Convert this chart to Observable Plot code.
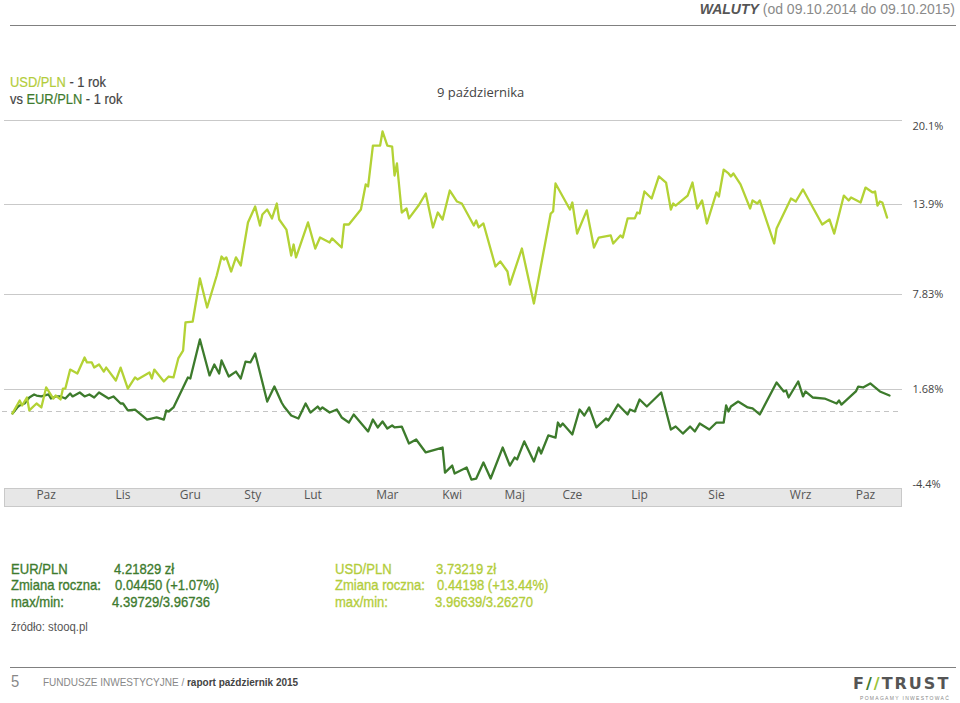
<!DOCTYPE html>
<html><head><meta charset="utf-8">
<script src="https://cdn.jsdelivr.net/npm/d3@7"></script>
<script src="https://cdn.jsdelivr.net/npm/@observablehq/plot@0.6"></script>
<style>
body{margin:0;background:#fff;}
#page{position:relative;width:960px;height:703px;overflow:hidden;font-family:"Liberation Sans",Arial,sans-serif;}
.abs{position:absolute;white-space:nowrap;line-height:1;}
.narrow{font-family:"Liberation Sans",Arial,sans-serif;transform:scaleX(0.87);transform-origin:0 0;}
.semi{font-family:"Liberation Sans",Arial,sans-serif;transform:scaleX(0.92);transform-origin:0 0;-webkit-text-stroke:0.2px currentColor;}
.med{-webkit-text-stroke:0.35px currentColor;}
.dk{color:#3e7b2e;} .lt{color:#b3cd3b;} .gr{color:#444;}
#chart{position:absolute;left:0;top:0;z-index:1;}
#band{position:absolute;left:4px;top:488px;width:898px;height:19px;background:#e7e7e7;border:1px solid #c9c9c9;box-sizing:border-box;z-index:0;}
</style></head>
<body><div id="page">
<div class="abs" style="right:5px;top:2px;font-size:14px;color:#8a8a8a;"><b style="color:#555;font-style:italic;">WALUTY</b> (od 09.10.2014 do 09.10.2015)</div>
<div class="abs" style="left:10px;top:25px;width:946px;height:1px;background:#808080;"></div>
<div class="abs semi" style="left:10px;top:75px;font-size:14px;"><span class="lt">USD/PLN</span><span class="gr"> - 1 rok</span></div>
<div class="abs semi" style="left:10px;top:92px;font-size:14px;"><span class="gr">vs </span><span class="dk">EUR/PLN</span><span class="gr"> - 1 rok</span></div>
<div class="abs" style="left:437px;top:86px;font-size:13px;color:#444;font-family:'Open Sans',sans-serif;">9 października</div>
<div id="band"></div>
<div id="stats"></div>
<div class="abs narrow" style="left:11px;top:620px;font-size:13px;color:#555;">źródło: stooq.pl</div>
<div class="abs" style="left:10px;top:667px;width:946px;height:1px;background:#808080;"></div>
<div class="abs narrow" style="left:11px;top:673px;font-size:17px;color:#888;">5</div>
<div class="abs narrow" style="left:43px;top:677px;font-size:11.5px;color:#888;">FUNDUSZE INWESTYCYJNE / <b style="color:#444;">raport październik 2015</b></div>
<div class="abs" style="left:853px;top:676px;font-size:16px;font-weight:bold;color:#555;letter-spacing:2px;font-family:'DejaVu Sans',sans-serif;">F<span style="color:#3e7b2e;">/</span><span style="color:#9cc43a;">/</span>TRUST</div>
<div class="abs" style="left:860px;top:696px;font-size:5px;color:#888;letter-spacing:1.3px;">POMAGAMY INWESTOWAĆ</div>
</div>
<script>
// --- data (percent change since 09.10.2014; x = days since start) ---
const startDate = "2014-10-09";
const endDate = "2015-10-09";
const usdDays = [0,3,4,6,7,10,12,14,17,18,20,21,22,24,27,30,31,33,34,36,38,39,43,45,48,51,52,57,58,59,63,65,67,69,71,72,75,78,81,85,87,88,89,91,93,95,98,101,103,104,106,108,110,111,114,116,117,118,123,126,128,132,133,137,138,140,145,147,148,150,153,154,156,158,159,160,162,164,165,169,172,175,177,179,182,185,187,192,193,194,196,201,203,206,207,212,217,224,225,226,232,233,235,239,242,244,249,250,253,254,256,259,260,261,263,266,269,272,274,275,276,281,283,285,287,289,293,294,296,298,299,300,303,307,308,310,311,317,318,324,326,329,337,340,342,346,348,349,353,355,358,359,360,361,362,364];
const usdPct = [-0.11,0.84,0.46,1.07,0.08,0.61,0.31,1.81,0.99,1.22,0.92,1.74,1.74,2.97,2.72,3.75,3.43,3.43,3.10,3.30,2.84,3.10,2.26,3.10,1.74,2.46,2.33,2.78,2.39,2.97,2.20,2.52,2.46,3.69,4.20,6.02,6.08,8.91,6.99,9.11,10.39,10.19,10.33,9.38,10.33,9.79,12.69,13.77,12.48,13.23,13.56,12.96,13.97,12.89,12.21,10.46,11.20,10.33,12.69,10.93,11.67,11.34,11.61,11.00,12.55,12.55,13.56,15.38,15.23,18.25,18.25,19.29,18.25,18.18,16.04,16.93,13.36,13.63,12.96,13.83,14.71,12.35,13.36,12.89,14.93,14.12,13.97,12.48,12.82,12.35,12.62,9.72,10.06,9.38,8.50,10.93,7.25,13.29,13.43,15.45,13.56,14.05,11.94,13.50,11.00,11.67,11.81,11.27,11.81,11.67,12.96,12.96,13.36,13.29,14.86,14.34,15.97,15.52,13.56,13.97,13.83,14.56,15.52,13.63,14.20,12.62,14.79,14.49,16.48,16.19,15.97,16.19,15.38,13.63,14.20,13.97,14.20,11.27,12.28,14.34,14.12,15.01,12.55,12.89,11.94,14.56,14.20,14.42,14.05,15.15,14.79,14.86,13.83,14.12,14.05,13.02];
const eurDays = [0,2,3,5,7,9,10,12,15,16,18,20,22,24,25,28,30,32,34,36,40,42,45,46,48,51,56,60,63,64,65,67,71,73,74,78,82,84,86,87,90,93,95,97,99,101,106,109,112,113,116,119,122,124,127,128,129,132,135,137,140,142,148,150,152,154,156,158,159,162,165,168,172,179,180,183,184,189,191,193,196,199,204,207,209,210,213,217,219,220,223,226,227,228,229,233,236,238,240,243,247,248,252,256,257,259,261,264,270,274,276,279,282,284,286,290,293,296,297,298,299,302,306,308,311,318,321,322,323,327,329,330,333,338,342,343,344,345,351,352,354,357,358,361,365];
const eurPct = [-0.11,0.31,0.46,0.61,1.07,1.30,1.22,1.15,1.30,0.99,1.15,1.15,0.99,1.37,1.15,1.45,1.15,1.30,1.07,1.45,0.99,1.15,0.61,0.61,0.08,0.15,-0.46,-0.34,-0.46,0.08,0.00,0.31,1.81,2.46,2.39,4.92,2.59,3.30,2.72,3.56,2.52,2.84,2.39,3.49,3.43,4.01,0.76,1.87,0.69,0.38,-0.23,-0.40,0.61,-0.06,0.38,0.15,0.31,-0.06,0.15,-0.34,-0.63,-0.17,-1.14,-0.46,-0.91,-0.57,-0.97,-0.80,-0.91,-0.86,-1.83,-1.60,-2.34,-2.06,-3.49,-3.09,-3.54,-3.20,-3.89,-3.83,-2.91,-3.83,-2.06,-3.09,-2.63,-2.74,-1.71,-2.86,-2.06,-2.40,-1.37,-1.49,-0.63,-0.86,-0.69,-1.31,0.15,-0.23,0.31,-0.91,-0.40,-0.51,0.53,-0.17,0.15,0.00,0.92,0.38,1.45,-1.03,-0.86,-1.26,-0.86,-1.14,-0.69,-1.03,-0.63,-0.63,0.46,0.00,0.38,0.76,0.31,0.23,-0.17,2.13,1.53,1.60,1.07,2.20,1.15,1.53,1.07,0.99,0.69,0.61,0.84,0.53,1.53,1.87,1.81,2.07,1.94,1.53,1.22];
const monthDates = ["2014-10-23","2014-11-24","2014-12-22","2015-01-17","2015-02-11","2015-03-14","2015-04-10","2015-05-06","2015-05-30","2015-06-27","2015-07-29","2015-09-02","2015-09-29"];
const monthLabels = ["Paz","Lis","Gru","Sty","Lut","Mar","Kwi","Maj","Cze","Lip","Sie","Wrz","Paz"];
const yTicks = [20.1, 13.9, 7.83, 1.68, -4.4];
const eurStats = [["EUR/PLN","4.21829 zł"],["Zmiana roczna:","0.04450 (+1.07%)"],["max/min:","4.39729/3.96736"]];
const usdStats = [["USD/PLN","3.73219 zł"],["Zmiana roczna:","0.44198 (+13.44%)"],["max/min:","3.96639/3.26270"]];

const light = "#b3d235", dark = "#3d7b2c";
const t0 = new Date(startDate), t1 = new Date(endDate);
const toSeries = (days, pct) => days.map((d, i) => ({date: d3.utcDay.offset(t0, d), pct: pct[i]}));
const usd = toSeries(usdDays, usdPct);
const eur = toSeries(eurDays, eurPct);
const months = monthDates.map((d, i) => ({date: new Date(d), label: monthLabels[i]}));

const chart = Plot.plot({
  width: 960, height: 520,
  marginLeft: 12, marginRight: 71, marginTop: 0, marginBottom: 32,
  style: {background: "transparent", fontFamily: "'Open Sans', sans-serif", overflow: "visible"},
  x: {type: "utc", domain: [t0, t1], axis: null},
  y: {type: "linear", domain: [-4.4, 0, 1.68, 7.83, 13.9, 20.1], range: [488, 411, 389, 294, 204, 120], axis: null},
  marks: [
    Plot.ruleY(yTicks.filter(d => d > -4.4), {stroke: "#c9c9c9", strokeWidth: 1.2, insetLeft: -8, insetRight: -13}),
    Plot.ruleY([0], {stroke: "#c4c4c4", strokeWidth: 1.2, strokeDasharray: "5,4", insetLeft: -10, insetRight: -13}),
    Plot.line(eur, {x: "date", y: "pct", stroke: dark, strokeWidth: 2.3}),
    Plot.line(usd, {x: "date", y: "pct", stroke: light, strokeWidth: 2.3}),
    Plot.text(yTicks.filter(d => d === 20.1), {y: d => d, text: d => `${d}%`, frameAnchor: "right", dx: 23, dy: 6, textAnchor: "start", fill: "#444", fontSize: 11}),
    Plot.text(yTicks.filter(d => d < 20.1 && d > -4.4), {y: d => d, text: d => `${d}%`, frameAnchor: "right", dx: 23, textAnchor: "start", fill: "#444", fontSize: 11}),
    Plot.text(yTicks.filter(d => d === -4.4), {y: d => d, text: d => `${d}%`, frameAnchor: "right", dx: 23, dy: -4, textAnchor: "start", fill: "#444", fontSize: 11}),
    Plot.text(months, {x: "date", text: "label", frameAnchor: "bottom", dy: 10, fill: "#555", fontSize: 12})
  ]
});
chart.id = "chart";
document.getElementById("page").appendChild(chart);

// stats block
const stats = document.getElementById("stats");
const rowTops = [561, 577, 594];
const addCol = (rows, xLabel, xVals, cls) => rows.forEach((r, i) => {
  const a = document.createElement("div");
  a.className = "abs narrow med " + cls; a.style.cssText = `left:${xLabel}px;top:${rowTops[i]}px;font-size:15px;`;
  a.textContent = r[0]; stats.appendChild(a);
  const b = document.createElement("div");
  b.className = "abs narrow med " + cls; b.style.cssText = `left:${xVals[i]}px;top:${rowTops[i]}px;font-size:15px;`;
  b.textContent = r[1]; stats.appendChild(b);
});
addCol(eurStats, 11, [114, 115, 112], "dk");
addCol(usdStats, 335, [436, 437, 435], "lt");
</script>
</body></html>
